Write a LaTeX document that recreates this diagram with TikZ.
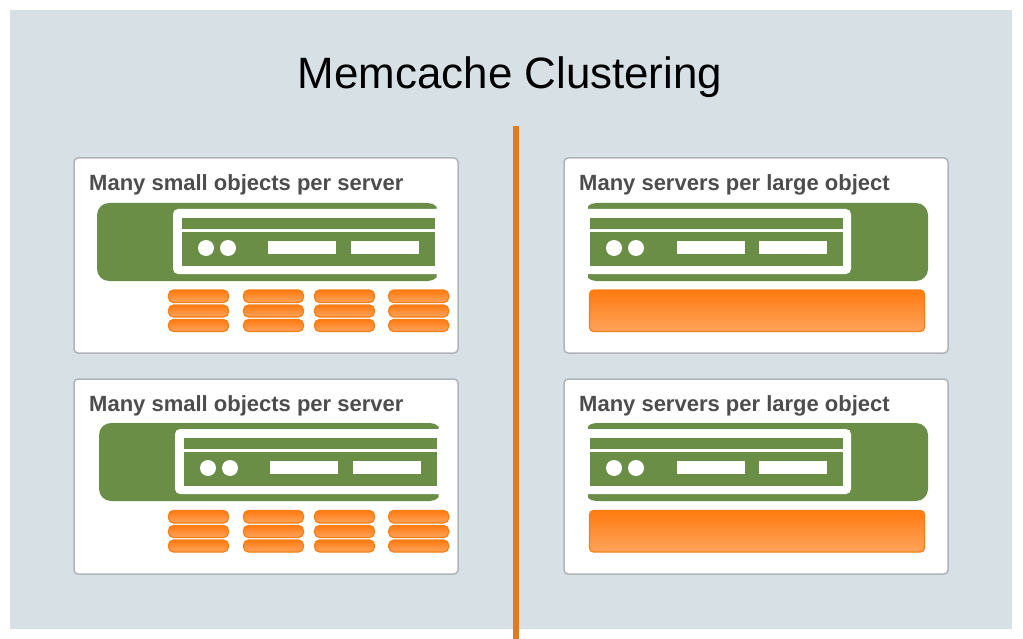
\documentclass[tikz,border=0pt]{standalone}
\usepackage{xcolor}
\usepackage{fontspec}
\setmainfont{Liberation Sans}
\definecolor{panel}{HTML}{D7E0E5}
\definecolor{cardline}{HTML}{B0B4B8}
\definecolor{heading}{HTML}{4D4D4D}
\definecolor{servergreen}{HTML}{6B8E47}
\definecolor{divider}{HTML}{E07B20}
\definecolor{orangetop}{HTML}{FF7A10}
\definecolor{orangelow}{HTML}{FFA45C}
\definecolor{orangeline}{HTML}{F57F17}
\tikzset{
    card/.style={fill=white, draw=cardline, line width=1.5pt, rounded corners=4pt},
    cardtitle/.style={anchor=base west, inner sep=0pt, text=heading, font=\fontsize{22pt}{26pt}\selectfont\bfseries},
    chunk/.style={top color=orangetop, bottom color=orangelow, draw=orangeline, line width=1.2pt, rounded corners=#1},
    chunk/.default=5pt,
}
% x y of the green box, frame on the right
\newcommand{\serverleft}[2]{
    \begin{scope}[shift={(#1,#2)}]
        \begin{scope}
            \clip (0,-2) rectangle (339.5,80);
            \fill[servergreen, rounded corners=12pt] (0,0) rectangle (343,78);
        \end{scope}
        \fill[white, rounded corners=5pt] (76,6) rectangle (352,71);
        \fill[servergreen] (85,15) rectangle (338,26);
        \fill[servergreen] (85,29) rectangle (338,63);
        \fill[white] (109,45) circle (8);
        \fill[white] (131,45) circle (8);
        \fill[white] (171,38) rectangle (239,51);
        \fill[white] (254,38) rectangle (322,51);
    \end{scope}
}
% x y of the green box, frame on the left
\newcommand{\serverright}[2]{
    \begin{scope}[shift={(#1,#2)}]
        \begin{scope}
            \clip (-1,-2) rectangle (339,80);
            \fill[servergreen, rounded corners=12pt] (-5,0) rectangle (339,78);
        \end{scope}
        \fill[white, rounded corners=5pt] (-14,6) rectangle (262,71);
        \fill[servergreen] (1,15) rectangle (254,26);
        \fill[servergreen] (1,29) rectangle (254,63);
        \fill[white] (25,45) circle (8);
        \fill[white] (47,45) circle (8);
        \fill[white] (88,38) rectangle (156,51);
        \fill[white] (170,38) rectangle (238,51);
    \end{scope}
}
\begin{document}
\begin{tikzpicture}[x=1pt, y=-1pt]
    \useasboundingbox (0,0) rectangle (1023,639);
    \fill[white] (0,0) rectangle (1023,639);
    \fill[panel] (10,10) rectangle (1012,629);
    \node[inner sep=0pt, font=\fontsize{43.9pt}{50pt}\selectfont] (title) at (510,77) {Memcache Clustering};
    \fill[divider] (512.5,126) rectangle (518.5,639);

    \foreach \row/\ytop in {1/158, 2/379} {
        \draw[card] (74,\ytop) rectangle (458,\ytop+195);
        \draw[card] (564,\ytop) rectangle (948,\ytop+195);
        \node[cardtitle] (small\row) at (89,\ytop+32.5) {Many small objects per server};
        \node[cardtitle] (large\row) at (579,\ytop+32.5) {Many servers per large object};
    }

    \serverleft{97}{203}
    \serverleft{99}{423}
    \serverright{589}{203}
    \serverright{589}{423}

    \foreach \ytop in {290, 510.5} {
        \foreach \xleft in {168.5, 243.5, 314.5, 388.7} {
            \draw[chunk] (\xleft,\ytop) rectangle (\xleft+60,\ytop+12.5);
            \draw[chunk] (\xleft,\ytop+15) rectangle (\xleft+60,\ytop+27);
            \draw[chunk] (\xleft,\ytop+29.5) rectangle (\xleft+60,\ytop+41.5);
        }
        \draw[chunk=4pt] (589.5,\ytop) rectangle (924.5,\ytop+41.5);
    }
\end{tikzpicture}
\end{document}
